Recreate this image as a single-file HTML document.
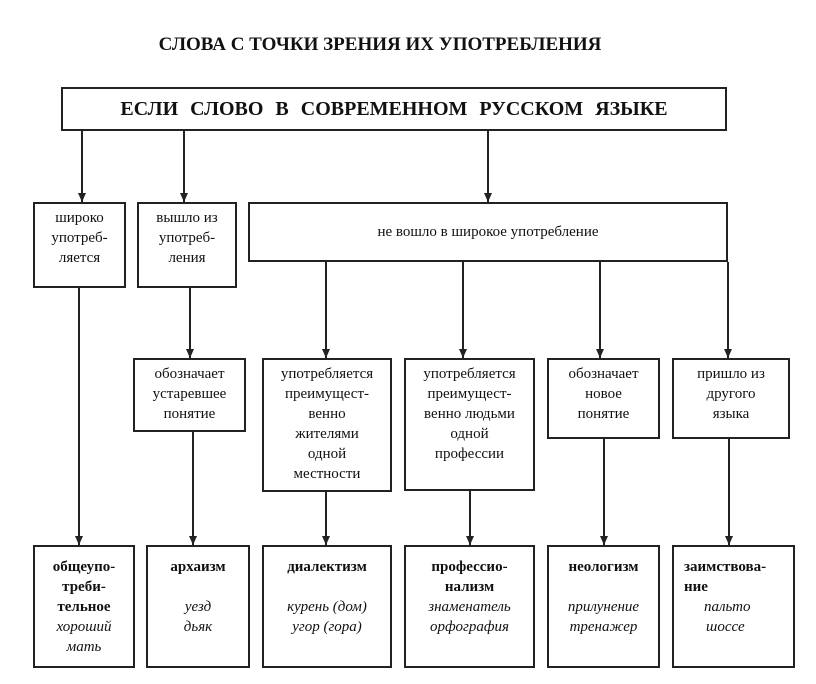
<!DOCTYPE html>
<html><head><meta charset="utf-8"><style>
body{margin:0;background:#fff;}
.w{position:relative;width:816px;height:684px;overflow:hidden;font-family:"Liberation Serif",serif;color:#111;}
.b{position:absolute;border:2px solid #222;box-sizing:border-box;text-align:center;font-size:15px;line-height:20px;}
.t{position:absolute;left:118px;width:524px;top:34px;text-align:center;font-weight:bold;font-size:19px;}
i{font-style:italic;}
</style></head><body><div class="w">
<div class="t">СЛОВА С ТОЧКИ ЗРЕНИЯ ИХ УПОТРЕБЛЕНИЯ</div>
<svg width="816" height="684" style="position:absolute;left:0;top:0">
<defs><marker id="a" markerWidth="10" markerHeight="10" refX="9" refY="4" orient="auto" markerUnits="userSpaceOnUse"><path d="M0,0 L9,4 L0,8z" fill="#222"/></marker></defs>
<g stroke="#222" stroke-width="2" marker-end="url(#a)">
<line x1="82" y1="130" x2="82" y2="202"/>
<line x1="184" y1="130" x2="184" y2="202"/>
<line x1="488" y1="130" x2="488" y2="202"/>
<line x1="326" y1="262" x2="326" y2="358"/>
<line x1="463" y1="262" x2="463" y2="358"/>
<line x1="600" y1="262" x2="600" y2="358"/>
<line x1="728" y1="262" x2="728" y2="358"/>
<line x1="79" y1="288" x2="79" y2="545"/>
<line x1="190" y1="288" x2="190" y2="358"/>
<line x1="193" y1="432" x2="193" y2="545"/>
<line x1="326" y1="492" x2="326" y2="545"/>
<line x1="470" y1="491" x2="470" y2="545"/>
<line x1="604" y1="439" x2="604" y2="545"/>
<line x1="729" y1="439" x2="729" y2="545"/>
</g></svg>
<div class="b" style="left:61px;top:87px;width:666px;height:44px;font-weight:bold;font-size:20px;line-height:40px;word-spacing:7px">ЕСЛИ СЛОВО В СОВРЕМЕННОМ РУССКОМ ЯЗЫКЕ</div>
<div class="b" style="left:33px;top:202px;width:93px;height:86px;padding-top:4px">широко<br>употреб-<br>ляется</div>
<div class="b" style="left:137px;top:202px;width:100px;height:86px;padding-top:4px">вышло из<br>употреб-<br>ления</div>
<div class="b" style="left:248px;top:202px;width:480px;height:60px;line-height:56px">не вошло в широкое употребление</div>
<div class="b" style="left:133px;top:358px;width:113px;height:74px;padding-top:4px">обозначает<br>устаревшее<br>понятие</div>
<div class="b" style="left:262px;top:358px;width:130px;height:134px;padding-top:4px">употребляется<br>преимущест-<br>венно<br>жителями<br>одной<br>местности</div>
<div class="b" style="left:404px;top:358px;width:131px;height:133px;padding-top:4px">употребляется<br>преимущест-<br>венно людьми<br>одной<br>профессии</div>
<div class="b" style="left:547px;top:358px;width:113px;height:81px;padding-top:4px">обозначает<br>новое<br>понятие</div>
<div class="b" style="left:672px;top:358px;width:118px;height:81px;padding-top:4px">пришло из<br>другого<br>языка</div>
<div class="b" style="left:33px;top:545px;width:102px;height:123px;padding-top:10px"><b>общеупо-<br>треби-<br>тельное</b><br><i>хороший<br>мать</i></div>
<div class="b" style="left:146px;top:545px;width:104px;height:123px;padding-top:10px"><b>архаизм</b><br><br><i>уезд<br>дьяк</i></div>
<div class="b" style="left:262px;top:545px;width:130px;height:123px;padding-top:10px"><b>диалектизм</b><br><br><i>курень (дом)<br>угор (гора)</i></div>
<div class="b" style="left:404px;top:545px;width:131px;height:123px;padding-top:10px"><b>профессио-<br>нализм</b><br><i>знаменатель<br>орфография</i></div>
<div class="b" style="left:547px;top:545px;width:113px;height:123px;padding-top:10px"><b>неологизм</b><br><br><i>прилунение<br>тренажер</i></div>
<div class="b" style="left:672px;top:545px;width:123px;height:123px;padding-top:10px;text-align:left;padding-left:10px"><b>заимствова-<br>ние</b><br><i style="padding-left:20px">пальто</i><br><i style="padding-left:22px">шоссе</i></div>
</div></body></html>
